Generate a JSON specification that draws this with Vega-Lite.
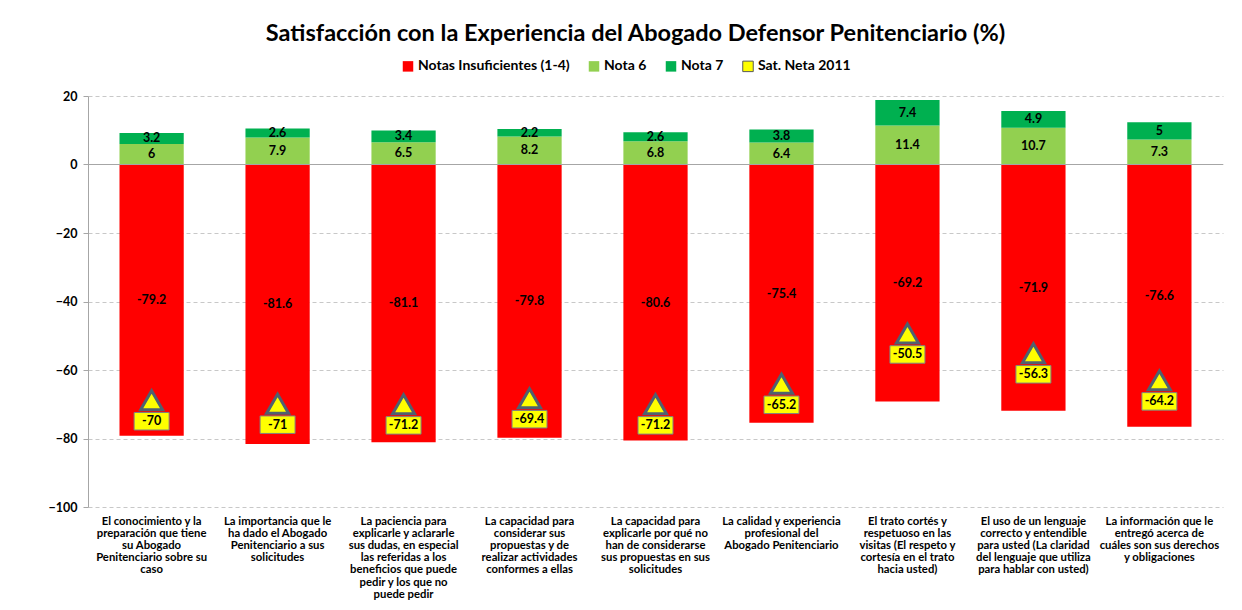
{
  "$schema": "https://vega.github.io/schema/vega-lite/v6.json",
  "width": 1135,
  "height": 411,
  "padding": {"left": 48, "top": 21, "right": 5, "bottom": 2},
  "background": "white",
  "title": {
    "text": "Satisfacción con la Experiencia del Abogado Defensor Penitenciario (%)",
    "font": "Lato",
    "fontSize": 23.5,
    "fontWeight": "bold",
    "color": "#000000",
    "anchor": "middle",
    "dx": -20,
    "offset": 14
  },
  "config": {
    "view": {"stroke": null},
    "font": "Lato"
  },
  "datasets": {
    "bars": [
      {"cat": "El conocimiento y la|preparación que tiene|su Abogado|Penitenciario sobre su|caso", "series": "Notas Insuficientes (1-4)", "ord": 0, "value": -79.2},
      {"cat": "El conocimiento y la|preparación que tiene|su Abogado|Penitenciario sobre su|caso", "series": "Nota 6", "ord": 1, "value": 6},
      {"cat": "El conocimiento y la|preparación que tiene|su Abogado|Penitenciario sobre su|caso", "series": "Nota 7", "ord": 2, "value": 3.2},
      {"cat": "La importancia que le|ha dado el Abogado|Penitenciario a sus|solicitudes", "series": "Notas Insuficientes (1-4)", "ord": 0, "value": -81.6},
      {"cat": "La importancia que le|ha dado el Abogado|Penitenciario a sus|solicitudes", "series": "Nota 6", "ord": 1, "value": 7.9},
      {"cat": "La importancia que le|ha dado el Abogado|Penitenciario a sus|solicitudes", "series": "Nota 7", "ord": 2, "value": 2.6},
      {"cat": "La paciencia para|explicarle y aclararle|sus dudas, en especial|las referidas a los|beneficios que puede|pedir y los que no|puede pedir", "series": "Notas Insuficientes (1-4)", "ord": 0, "value": -81.1},
      {"cat": "La paciencia para|explicarle y aclararle|sus dudas, en especial|las referidas a los|beneficios que puede|pedir y los que no|puede pedir", "series": "Nota 6", "ord": 1, "value": 6.5},
      {"cat": "La paciencia para|explicarle y aclararle|sus dudas, en especial|las referidas a los|beneficios que puede|pedir y los que no|puede pedir", "series": "Nota 7", "ord": 2, "value": 3.4},
      {"cat": "La capacidad para|considerar sus|propuestas y de|realizar actividades|conformes a ellas", "series": "Notas Insuficientes (1-4)", "ord": 0, "value": -79.8},
      {"cat": "La capacidad para|considerar sus|propuestas y de|realizar actividades|conformes a ellas", "series": "Nota 6", "ord": 1, "value": 8.2},
      {"cat": "La capacidad para|considerar sus|propuestas y de|realizar actividades|conformes a ellas", "series": "Nota 7", "ord": 2, "value": 2.2},
      {"cat": "La capacidad para|explicarle por qué no|han de considerarse|sus propuestas en sus|solicitudes", "series": "Notas Insuficientes (1-4)", "ord": 0, "value": -80.6},
      {"cat": "La capacidad para|explicarle por qué no|han de considerarse|sus propuestas en sus|solicitudes", "series": "Nota 6", "ord": 1, "value": 6.8},
      {"cat": "La capacidad para|explicarle por qué no|han de considerarse|sus propuestas en sus|solicitudes", "series": "Nota 7", "ord": 2, "value": 2.6},
      {"cat": "La calidad y experiencia|profesional del|Abogado Penitenciario", "series": "Notas Insuficientes (1-4)", "ord": 0, "value": -75.4},
      {"cat": "La calidad y experiencia|profesional del|Abogado Penitenciario", "series": "Nota 6", "ord": 1, "value": 6.4},
      {"cat": "La calidad y experiencia|profesional del|Abogado Penitenciario", "series": "Nota 7", "ord": 2, "value": 3.8},
      {"cat": "El trato cortés y|respetuoso en las|visitas (El respeto y|cortesía en el trato|hacia usted)", "series": "Notas Insuficientes (1-4)", "ord": 0, "value": -69.2},
      {"cat": "El trato cortés y|respetuoso en las|visitas (El respeto y|cortesía en el trato|hacia usted)", "series": "Nota 6", "ord": 1, "value": 11.4},
      {"cat": "El trato cortés y|respetuoso en las|visitas (El respeto y|cortesía en el trato|hacia usted)", "series": "Nota 7", "ord": 2, "value": 7.4},
      {"cat": "El uso de un lenguaje|correcto y entendible|para usted (La claridad|del lenguaje que utiliza|para hablar con usted)", "series": "Notas Insuficientes (1-4)", "ord": 0, "value": -71.9},
      {"cat": "El uso de un lenguaje|correcto y entendible|para usted (La claridad|del lenguaje que utiliza|para hablar con usted)", "series": "Nota 6", "ord": 1, "value": 10.7},
      {"cat": "El uso de un lenguaje|correcto y entendible|para usted (La claridad|del lenguaje que utiliza|para hablar con usted)", "series": "Nota 7", "ord": 2, "value": 4.9},
      {"cat": "La información que le|entregó acerca de|cuáles son sus derechos|y obligaciones", "series": "Notas Insuficientes (1-4)", "ord": 0, "value": -76.6},
      {"cat": "La información que le|entregó acerca de|cuáles son sus derechos|y obligaciones", "series": "Nota 6", "ord": 1, "value": 7.3},
      {"cat": "La información que le|entregó acerca de|cuáles son sus derechos|y obligaciones", "series": "Nota 7", "ord": 2, "value": 5}
    ],
    "sat": [
      {"cat": "El conocimiento y la|preparación que tiene|su Abogado|Penitenciario sobre su|caso", "sat": -70},
      {"cat": "La importancia que le|ha dado el Abogado|Penitenciario a sus|solicitudes", "sat": -71},
      {"cat": "La paciencia para|explicarle y aclararle|sus dudas, en especial|las referidas a los|beneficios que puede|pedir y los que no|puede pedir", "sat": -71.2},
      {"cat": "La capacidad para|considerar sus|propuestas y de|realizar actividades|conformes a ellas", "sat": -69.4},
      {"cat": "La capacidad para|explicarle por qué no|han de considerarse|sus propuestas en sus|solicitudes", "sat": -71.2},
      {"cat": "La calidad y experiencia|profesional del|Abogado Penitenciario", "sat": -65.2},
      {"cat": "El trato cortés y|respetuoso en las|visitas (El respeto y|cortesía en el trato|hacia usted)", "sat": -50.5},
      {"cat": "El uso de un lenguaje|correcto y entendible|para usted (La claridad|del lenguaje que utiliza|para hablar con usted)", "sat": -56.3},
      {"cat": "La información que le|entregó acerca de|cuáles son sus derechos|y obligaciones", "sat": -64.2}
    ]
  },
  "layer": [
    {
      "data": {"name": "bars"},
      "mark": {"type": "bar"},
      "encoding": {
        "x": {
          "field": "cat", "type": "nominal", "sort": null,
          "scale": {"paddingInner": 0.49, "paddingOuter": 0.25},
          "axis": {
            "title": null, "labelAngle": 0, "labelExpr": "split(datum.label, '|')",
            "labelFont": "Lato", "labelFontSize": 11.3, "labelFontWeight": "bold", "labelColor": "#000000",
            "labelLineHeight": 12.2, "labelLimit": 200, "labelPadding": 8, "labelBaseline": "top",
            "ticks": false, "domain": false
          }
        },
        "y": {
          "field": "value", "type": "quantitative",
          "scale": {"domain": [-100, 20], "nice": false},
          "axis": {
            "title": null, "values": [-100, -80, -60, -40, -20, 0, 20],
            "labelFont": "Lato", "labelFontSize": 12.5, "labelFontWeight": "bold", "labelColor": "#000000",
            "labelPadding": 6, "tickSize": 5, "tickColor": "#A6A6A6", "domainColor": "#A6A6A6",
            "gridColor": "#C8C8C8", "gridDash": [4, 3], "gridWidth": 1
          }
        },
        "color": {
          "field": "series", "type": "nominal",
          "scale": {
            "domain": ["Notas Insuficientes (1-4)", "Nota 6", "Nota 7", "Sat. Neta 2011"],
            "range": ["#FF0000", "#92D050", "#00B050", "#FFFF00"]
          },
          "legend": {
            "title": null, "orient": "none", "direction": "horizontal", "columns": 4,
            "legendX": 313, "legendY": -37,
            "symbolType": "square", "symbolSize": 110, "symbolStrokeWidth": 1,
            "labelFont": "Lato", "labelFontSize": 14, "labelFontWeight": "bold", "labelColor": "#000000",
            "columnPadding": 16, "labelOffset": 3,
            "encode": {
              "symbols": {
                "update": {
                  "stroke": [
                    {"test": "datum.value === 'Sat. Neta 2011'", "value": "#595959"},
                    {"value": "transparent"}
                  ]
                }
              }
            }
          }
        },
        "order": {"field": "ord", "type": "quantitative"}
      }
    },
    {
      "data": {"name": "bars"},
      "mark": {"type": "rule", "color": "#A6A6A6", "strokeWidth": 1},
      "encoding": {"y": {"datum": 0}}
    },
    {
      "data": {"name": "bars"},
      "transform": [
        {"stack": "value", "groupby": ["cat"], "sort": [{"field": "ord"}], "as": ["v0", "v1"]},
        {"calculate": "(datum.v0 + datum.v1) / 2", "as": "mid"}
      ],
      "mark": {"type": "text", "font": "Lato", "fontSize": 12.5, "fontWeight": "bold", "color": "#000000", "baseline": "middle"},
      "encoding": {
        "x": {"field": "cat", "type": "nominal", "sort": null},
        "y": {"field": "mid", "type": "quantitative"},
        "text": {"field": "value", "type": "nominal"}
      }
    },
    {
      "data": {"name": "sat"},
      "mark": {"type": "point", "shape": "triangle-up", "filled": true, "fill": "#FFFF00", "stroke": "#4F6170", "strokeWidth": 3, "opacity": 1, "size": 480, "yOffset": -4},
      "encoding": {
        "x": {"field": "cat", "type": "nominal", "sort": null},
        "y": {"field": "sat", "type": "quantitative"}
      }
    },
    {
      "data": {"name": "sat"},
      "mark": {"type": "point", "shape": "M-1,-0.5H1V0.5H-1Z", "filled": true, "fill": "#FFFF00", "stroke": "#808080", "strokeWidth": 1, "opacity": 1, "size": 1225, "yOffset": 17},
      "encoding": {
        "x": {"field": "cat", "type": "nominal", "sort": null},
        "y": {"field": "sat", "type": "quantitative"}
      }
    },
    {
      "data": {"name": "sat"},
      "mark": {"type": "text", "font": "Lato", "fontSize": 12.5, "fontWeight": "bold", "color": "#000000", "baseline": "middle", "yOffset": 17},
      "encoding": {
        "x": {"field": "cat", "type": "nominal", "sort": null},
        "y": {"field": "sat", "type": "quantitative"},
        "text": {"field": "sat", "type": "nominal"}
      }
    }
  ]
}
